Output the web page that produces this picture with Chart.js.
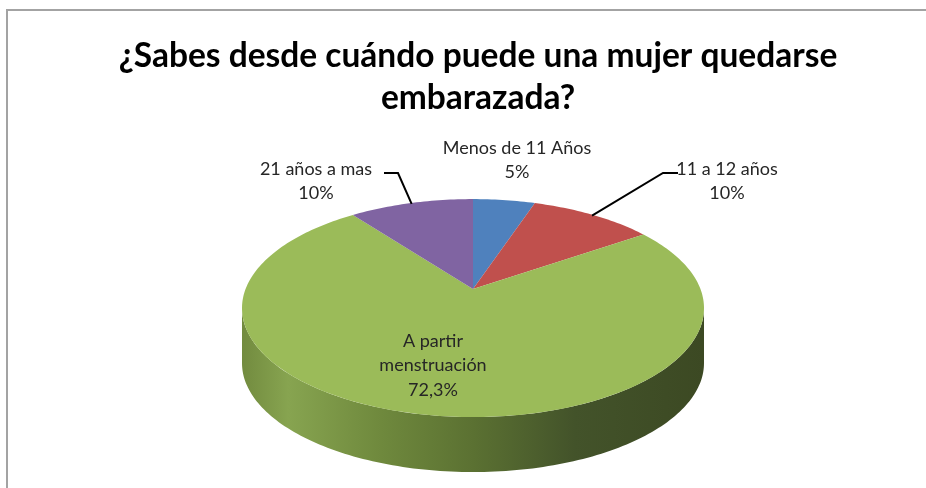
<!DOCTYPE html>
<html>
<head>
<meta charset="utf-8">
<script src="https://cdn.jsdelivr.net/npm/chart.js@4.4.0/dist/chart.umd.min.js"></script>
<style>
  html, body { margin: 0; padding: 0; background: #fff; }
  #wrap { width: 926px; height: 488px; position: relative; }
</style>
</head>
<body>
<div id="wrap"><canvas id="pieChartEl"></canvas></div>
<script>
// Data
const categories = ['Menos de 11 Años', '11 a 12 años', ['A partir', 'menstruación'], '21 años a mas'];
const percentValues = [5, 10, 72.3, 10];
const sliceColors = ['#4f81bd', '#c0504d', '#9bbb59', '#8064a2'];

// Pie geometry: apex = projected centre, q = perspective strength
const geo = { cx: 473, apexY: 289, rx: 231, ry: 109, depth: 55, q: 0.175 };

// label placement (elbow/tail = leader line bend)
const labelPos = [
  { x: 517, y: 148 },
  { x: 727, y: 169, elbow: 663, tail: 678, ly: 173 },
  { x: 433, y: 341 },
  { x: 316, y: 169, elbow: 398, tail: 384, ly: 173 }
];

const fmtPct = v => String(v).replace('.', ',') + '%';

// circle angle -> screen point on the tilted, perspective top face
function project(a, r, dy) {
  const { cx, apexY, rx, ry, q } = geo;
  const u = r * Math.cos(a), v = r * Math.sin(a);
  const w = 1 - q * v;
  return {
    x: cx + rx * Math.sqrt(1 - q * q) * u / w,
    y: apexY + ry * (1 - q * q) * v / w + (dy || 0)
  };
}

function tracePts(ctx, a0, a1, dy, first) {
  const n = Math.max(2, Math.ceil(Math.abs(a1 - a0) / 0.02));
  for (let k = 0; k <= n; k++) {
    const p = project(a0 + (a1 - a0) * k / n, 1, dy);
    if (first && k === 0) ctx.moveTo(p.x, p.y); else ctx.lineTo(p.x, p.y);
  }
}

const frame = {
  id: 'frame',
  beforeDraw(chart) {
    const ctx = chart.ctx;
    ctx.save();
    ctx.strokeStyle = '#a3a3a3';
    ctx.lineWidth = 2;
    ctx.beginPath();
    ctx.moveTo(7, 488);
    ctx.lineTo(7, 10);
    ctx.lineTo(926, 10);
    ctx.stroke();
    ctx.restore();
  }
};

// draws the dataset as a 3D pie from the arc elements' angles
const pie3d = {
  id: 'pie3d',
  beforeDatasetsDraw(chart) {
    const ctx = chart.ctx;
    const arcs = chart.getDatasetMeta(0).data;
    const { cx, rx, depth, q } = geo;
    const sMin = Math.asin(q), sMax = Math.PI - Math.asin(q);

    const grad = ctx.createLinearGradient(cx - rx, 0, cx + rx, 0);
    grad.addColorStop(0, '#728b3f');
    grad.addColorStop(0.1, '#87a450');
    grad.addColorStop(0.3, '#6f893d');
    grad.addColorStop(0.5, '#5b7132');
    grad.addColorStop(0.72, '#43532a');
    grad.addColorStop(1, '#3c4923');

    // side wall, visible front part only
    arcs.forEach((arc, i) => {
      const s = Math.max(arc.startAngle, sMin);
      const e = Math.min(arc.endAngle, sMax);
      if (e <= s) return;
      ctx.save();
      ctx.beginPath();
      tracePts(ctx, s, e, 0, true);
      tracePts(ctx, e, s, depth, false);
      ctx.closePath();
      ctx.fillStyle = i === 2 ? grad : sliceColors[i];
      ctx.fill();
      ctx.restore();
    });

    // top face
    arcs.forEach((arc, i) => {
      ctx.save();
      ctx.beginPath();
      const c = project(0, 0);
      ctx.moveTo(c.x, c.y);
      tracePts(ctx, arc.startAngle, arc.endAngle, 0, false);
      ctx.closePath();
      ctx.fillStyle = sliceColors[i];
      ctx.fill();
      ctx.restore();
    });
    return false;
  },
  afterDraw(chart) {
    const ctx = chart.ctx;
    const arcs = chart.getDatasetMeta(0).data;
    ctx.save();
    ctx.font = '18px Lato';
    ctx.fillStyle = '#262626';
    ctx.textAlign = 'center';
    ctx.textBaseline = 'middle';
    categories.forEach((cat, i) => {
      const p = labelPos[i];
      const lines = [].concat(cat, fmtPct(percentValues[i]));
      lines.forEach((t, k) => ctx.fillText(t, p.x, p.y + k * 24.5));
      if (p.elbow) {
        const arc = arcs[i];
        const a = project((arc.startAngle + arc.endAngle) / 2, 0.99);
        ctx.strokeStyle = '#000';
        ctx.lineWidth = 2;
        ctx.beginPath();
        ctx.moveTo(a.x, a.y);
        ctx.lineTo(p.elbow, p.ly);
        ctx.lineTo(p.tail, p.ly);
        ctx.stroke();
      }
    });
    ctx.restore();
  }
};

new Chart(document.getElementById('pieChartEl'), {
  type: 'pie',
  data: {
    labels: categories,
    datasets: [{
      data: percentValues,
      backgroundColor: sliceColors,
      borderWidth: 0
    }]
  },
  options: {
    responsive: true,
    maintainAspectRatio: false,
    animation: false,
    layout: { padding: { left: 30 } },
    plugins: {
      legend: { display: false },
      tooltip: { enabled: false },
      title: {
        display: true,
        text: ['¿Sabes desde cuándo puede una mujer quedarse', 'embarazada?'],
        color: '#000',
        font: { family: 'Lato', size: 33.5, weight: 'bold', lineHeight: 1.23 },
        padding: { top: 36, bottom: 10 }
      }
    }
  },
  plugins: [frame, pie3d]
});
</script>
</body>
</html>
